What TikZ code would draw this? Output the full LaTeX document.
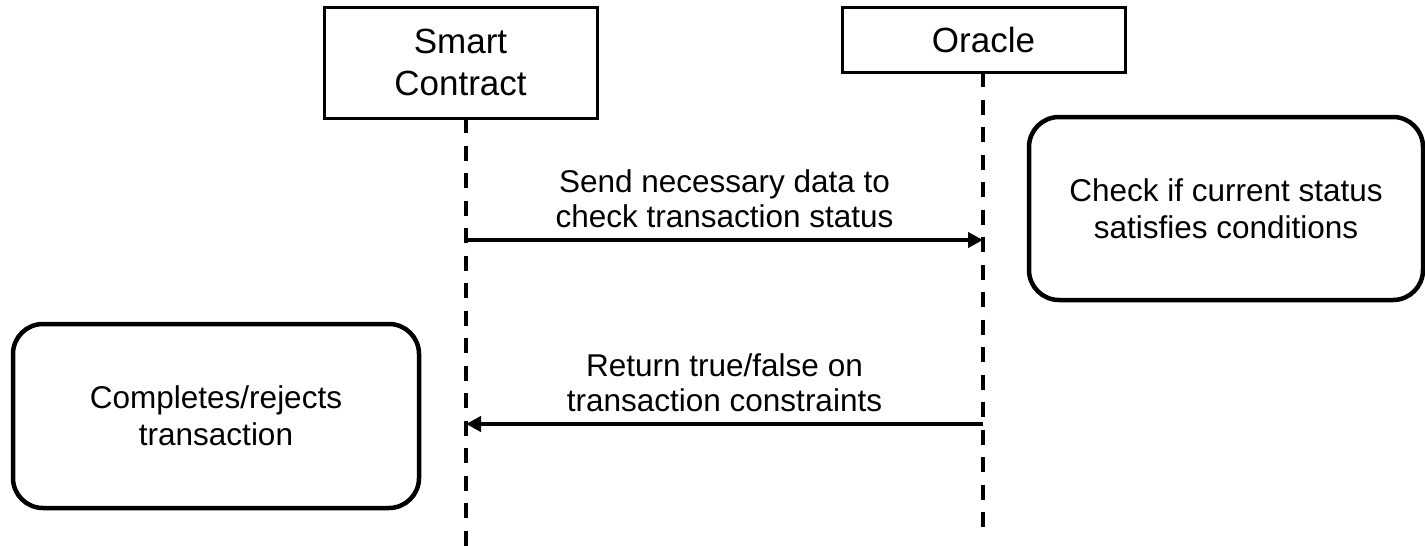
\documentclass[tikz,border=0pt]{standalone}
\usepackage{fontspec}
\setmainfont{Liberation Sans}
\usetikzlibrary{arrows.meta}
\begin{document}
\begin{tikzpicture}[x=1pt,y=-1pt,
  actor/.style={draw,line width=3pt,minimum width=273pt,minimum height=111pt,
    align=center,font=\fontsize{35}{42}\selectfont,inner sep=0pt},
  note/.style={draw,line width=4.5pt,rounded corners=30pt,align=center,
    font=\fontsize{31.5}{37}\selectfont,inner sep=0pt},
  lifeline/.style={line width=4pt,dash pattern=on 15pt off 12.5pt},
  msg/.style={line width=4pt,-{Triangle[length=15pt,width=15pt]}},
  msglabel/.style={align=center,font=\fontsize{31.5}{35}\selectfont,inner sep=0pt}]
\useasboundingbox (0,0) rectangle (1425,546);

% participants
\node[actor] (sc) at (460.5,62.5) {Smart\\Contract};
\node[actor,minimum width=283pt,minimum height=65pt] (or) at (983.5,39.5) {Oracle};

% lifelines
\coordinate (scTop) at (466,118);
\coordinate (scEnd) at (466,546);
\coordinate (orTop) at (983,72);
\coordinate (orEnd) at (983,536);
\draw[lifeline] (scTop) -- (scEnd);
\draw[lifeline] (orTop) -- (orEnd);

% message anchors on the lifelines
\coordinate (m1s) at (466,240);
\coordinate (m1e) at (983,240);
\coordinate (m2s) at (983,424);
\coordinate (m2e) at (466,424);

\draw[msg] (m1s) -- node[msglabel,above=10pt] {Send necessary data to\\check transaction status} (m1e);
\draw[msg] (m2s) -- node[msglabel,above=10pt] {Return true/false on\\transaction constraints} (m2e);

% activity notes
\node[note,minimum width=394pt,minimum height=183pt] (chk) at (1226,208.5)
  {Check if current status\\satisfies conditions};
\node[note,minimum width=406pt,minimum height=184pt] (done) at (216,416)
  {Completes/rejects\\transaction};
\end{tikzpicture}
\end{document}
